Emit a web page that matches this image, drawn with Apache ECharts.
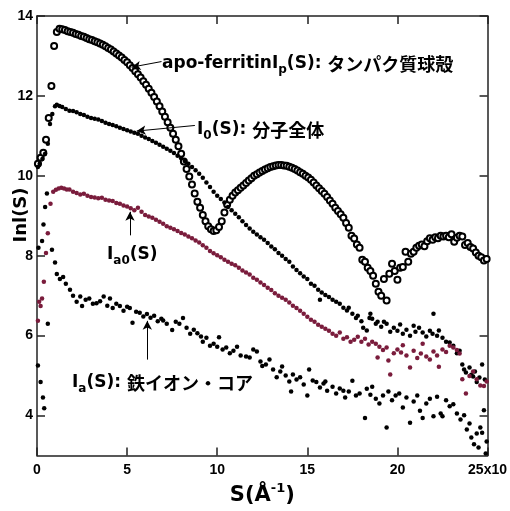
<!DOCTYPE html>
<html>
<head>
<meta charset="utf-8">
<script src="https://cdn.jsdelivr.net/npm/echarts@6/dist/echarts.min.js"></script>
<style>
  html, body { margin: 0; padding: 0; background: #fff; }
  #chart { width: 510px; height: 511px; }
</style>
</head>
<body>
<div id="chart"></div>
<script>
// S (x10^-3 Å^-1) vs ln I(S)
const xTicks = [0, 5, 10, 15, 20, 25]
const yTicks = [4, 6, 8, 10, 12, 14]

// apo-ferritin: open circles
const apoFerritin = [
  [0.05, 10.3], [0.2, 10.45], [0.35, 10.58], [0.5, 10.9], [0.65, 11.45], [0.8, 12.25], [0.95, 13.25], [1.1, 13.6], [1.25, 13.68], [1.4, 13.67],
  [1.55, 13.65], [1.7, 13.62], [1.85, 13.6], [2.0, 13.58], [2.15, 13.55], [2.3, 13.53], [2.45, 13.5], [2.6, 13.48], [2.75, 13.45], [2.9, 13.42],
  [3.05, 13.4], [3.2, 13.37], [3.35, 13.34], [3.5, 13.31], [3.65, 13.28], [3.8, 13.24], [3.95, 13.2], [4.1, 13.16], [4.25, 13.11], [4.4, 13.06],
  [4.55, 13.01], [4.7, 12.96], [4.85, 12.9], [5.0, 12.84], [5.15, 12.77], [5.3, 12.7], [5.45, 12.62], [5.6, 12.54], [5.75, 12.46], [5.9, 12.37],
  [6.05, 12.28], [6.2, 12.18], [6.35, 12.08], [6.5, 11.97], [6.65, 11.86], [6.8, 11.74], [6.95, 11.61], [7.1, 11.48], [7.25, 11.34], [7.4, 11.2],
  [7.55, 11.05], [7.7, 10.9], [7.85, 10.74], [8.0, 10.55], [8.15, 10.36], [8.3, 10.17], [8.45, 9.98], [8.6, 9.78], [8.75, 9.56], [8.9, 9.35],
  [9.05, 9.2], [9.2, 9.02], [9.35, 8.86], [9.5, 8.74], [9.65, 8.66], [9.8, 8.62], [9.95, 8.64], [10.1, 8.72], [10.25, 8.86], [10.4, 9.08],
  [10.55, 9.28], [10.7, 9.4], [10.85, 9.5], [11.0, 9.58], [11.15, 9.64], [11.3, 9.7], [11.45, 9.76], [11.6, 9.82], [11.75, 9.88], [11.9, 9.94],
  [12.05, 10.0], [12.2, 10.04], [12.35, 10.08], [12.5, 10.12], [12.65, 10.16], [12.8, 10.19], [12.95, 10.22], [13.1, 10.24], [13.25, 10.26], [13.4, 10.27],
  [13.55, 10.27], [13.7, 10.26], [13.85, 10.25], [14.0, 10.23], [14.15, 10.2], [14.3, 10.17], [14.45, 10.13], [14.6, 10.09], [14.75, 10.05], [14.9, 10.0],
  [15.05, 9.96], [15.2, 9.9], [15.35, 9.83], [15.5, 9.76], [15.65, 9.69], [15.8, 9.62], [15.95, 9.55], [16.1, 9.47], [16.25, 9.38], [16.4, 9.3],
  [16.55, 9.2], [16.7, 9.12], [16.85, 9.04], [17.0, 8.95], [17.15, 8.82], [17.3, 8.7], [17.45, 8.5], [17.6, 8.43], [17.75, 8.28], [17.9, 8.2],
  [18.05, 7.9], [18.2, 7.85], [18.35, 7.7], [18.5, 7.62], [18.65, 7.5], [18.8, 7.3], [18.95, 7.1], [19.1, 7.0], [19.25, 7.42], [19.4, 6.88],
  [19.55, 7.55], [19.7, 7.8], [19.85, 7.62], [20.0, 7.4], [20.15, 7.7], [20.3, 7.72], [20.45, 8.1], [20.6, 7.85], [20.75, 8.05], [20.9, 8.1],
  [21.05, 8.2], [21.2, 8.25], [21.35, 8.28], [21.5, 8.24], [21.65, 8.36], [21.8, 8.44], [21.95, 8.4], [22.1, 8.46], [22.25, 8.44], [22.4, 8.5],
  [22.55, 8.48], [22.7, 8.5], [22.85, 8.46], [23.0, 8.54], [23.15, 8.35], [23.3, 8.45], [23.45, 8.5], [23.6, 8.48], [23.75, 8.27], [23.9, 8.32],
  [24.05, 8.22], [24.2, 8.18], [24.35, 8.08], [24.5, 8.0], [24.65, 7.96], [24.8, 7.88], [24.95, 7.92]
]

// I0(S): whole molecule
const wholeMolecule = [
  [0.05, 10.22], [0.15, 10.3], [0.3, 10.42], [0.45, 10.55], [0.6, 10.8], [0.72, 11.3], [0.85, 11.55], [1.0, 11.74], [1.1, 11.78], [1.25, 11.75],
  [1.4, 11.72], [1.6, 11.67], [1.8, 11.63], [2.0, 11.62], [2.2, 11.59], [2.4, 11.55], [2.6, 11.52], [2.8, 11.48], [3.0, 11.45], [3.2, 11.43],
  [3.4, 11.41], [3.6, 11.37], [3.8, 11.33], [4.0, 11.3], [4.2, 11.27], [4.4, 11.24], [4.6, 11.2], [4.8, 11.17], [5.0, 11.14], [5.2, 11.11],
  [5.4, 11.08], [5.6, 11.05], [5.8, 11.0], [6.0, 10.96], [6.2, 10.92], [6.4, 10.87], [6.6, 10.83], [6.8, 10.78], [7.0, 10.73], [7.2, 10.68],
  [7.4, 10.63], [7.6, 10.57], [7.8, 10.5], [8.0, 10.44], [8.2, 10.37], [8.4, 10.3], [8.6, 10.22], [8.8, 10.14], [9.0, 10.05], [9.2, 9.95],
  [9.4, 9.83], [9.6, 9.72], [9.8, 9.6], [10.0, 9.5], [10.2, 9.42], [10.4, 9.33], [10.6, 9.22], [10.8, 9.14], [11.0, 9.05], [11.2, 8.96],
  [11.4, 8.86], [11.6, 8.77], [11.8, 8.68], [12.0, 8.6], [12.2, 8.53], [12.4, 8.46], [12.6, 8.4], [12.8, 8.32], [13.0, 8.23], [13.2, 8.16],
  [13.4, 8.07], [13.6, 8.0], [13.8, 7.92], [14.0, 7.85], [14.2, 7.73], [14.4, 7.64], [14.6, 7.56], [14.8, 7.48], [15.0, 7.42], [15.2, 7.3],
  [15.4, 7.25], [15.6, 7.15], [15.7, 6.9], [15.8, 7.08], [16.0, 7.02], [16.2, 6.97], [16.4, 6.9], [16.6, 6.85], [16.8, 6.8], [17.0, 6.7],
  [17.2, 6.63], [17.3, 6.7], [17.5, 6.55], [17.7, 6.44], [17.8, 6.5], [18.0, 6.36], [18.1, 6.2], [18.3, 6.13], [18.45, 6.44], [18.5, 6.55],
  [18.6, 6.42], [18.8, 6.3], [18.9, 6.35], [19.1, 6.22], [19.25, 6.35], [19.4, 6.3], [19.6, 6.1], [19.8, 6.2], [20.0, 6.12], [20.15, 6.28],
  [20.3, 6.05], [20.5, 6.15], [20.7, 6.0], [20.9, 6.25], [21.0, 6.1], [21.2, 6.2], [21.4, 6.08], [21.6, 5.98], [21.8, 6.12], [21.95, 6.05],
  [22.0, 6.55], [22.2, 6.0], [22.3, 6.13], [22.5, 5.95], [22.7, 5.85], [22.9, 5.83], [23.1, 5.75], [23.3, 5.56], [23.45, 5.62], [23.6, 5.28],
  [23.7, 5.15], [23.8, 5.08], [24.0, 5.2], [24.1, 5.02], [24.2, 4.98], [24.3, 5.1], [24.4, 4.84], [24.55, 4.95], [24.7, 5.28], [24.85, 4.9]
]

// Ia0(S)
const coreIa0 = [
  [0.05, 6.37], [0.12, 6.85], [0.2, 6.74], [0.28, 6.93], [0.38, 7.35], [0.5, 8.07], [0.6, 8.56], [0.75, 9.3], [0.9, 9.6], [1.05, 9.65],
  [1.2, 9.68], [1.35, 9.7], [1.5, 9.68], [1.65, 9.66], [1.8, 9.66], [2.0, 9.6], [2.2, 9.57], [2.4, 9.53], [2.6, 9.55], [2.8, 9.5],
  [3.0, 9.47], [3.2, 9.46], [3.4, 9.44], [3.6, 9.45], [3.8, 9.4], [4.0, 9.38], [4.2, 9.37], [4.4, 9.32], [4.6, 9.3], [4.8, 9.26],
  [5.0, 9.23], [5.2, 9.19], [5.4, 9.14], [5.6, 9.2], [5.8, 9.1], [6.0, 9.02], [6.2, 8.98], [6.4, 8.95], [6.6, 8.9], [6.8, 8.85],
  [7.0, 8.8], [7.2, 8.74], [7.4, 8.7], [7.6, 8.66], [7.8, 8.62], [8.0, 8.57], [8.2, 8.53], [8.4, 8.48], [8.6, 8.44], [8.8, 8.38],
  [9.0, 8.33], [9.2, 8.26], [9.4, 8.2], [9.6, 8.12], [9.8, 8.06], [10.0, 8.01], [10.2, 7.96], [10.4, 7.9], [10.6, 7.85], [10.8, 7.8],
  [11.0, 7.76], [11.2, 7.7], [11.4, 7.63], [11.6, 7.58], [11.8, 7.53], [12.0, 7.45], [12.2, 7.4], [12.4, 7.33], [12.6, 7.27], [12.8, 7.2],
  [13.0, 7.14], [13.2, 7.06], [13.4, 7.0], [13.6, 6.95], [13.8, 6.9], [14.0, 6.83], [14.2, 6.75], [14.4, 6.69], [14.6, 6.62], [14.8, 6.55],
  [15.0, 6.47], [15.2, 6.4], [15.4, 6.35], [15.6, 6.27], [15.8, 6.22], [16.0, 6.17], [16.2, 6.12], [16.4, 6.05], [16.6, 6.0], [16.8, 6.08],
  [17.0, 5.92], [17.2, 5.96], [17.4, 5.85], [17.6, 5.9], [17.8, 5.97], [18.0, 5.85], [18.2, 5.92], [18.4, 5.78], [18.6, 5.85], [18.8, 5.8],
  [18.9, 5.45], [19.0, 5.72], [19.2, 5.64], [19.4, 5.7], [19.5, 5.38], [19.6, 5.03], [19.8, 5.56], [20.0, 5.65], [20.2, 5.58], [20.3, 5.76],
  [20.5, 5.5], [20.7, 5.2], [20.9, 5.62], [21.1, 5.44], [21.3, 5.55], [21.4, 5.8], [21.6, 5.48], [21.8, 5.4], [22.0, 5.6], [22.2, 5.5],
  [22.3, 5.22], [22.5, 5.65], [22.7, 5.59], [22.9, 5.75], [23.1, 5.7], [23.3, 5.64], [23.45, 5.55], [23.6, 4.91], [23.8, 4.55], [24.0, 4.99],
  [24.2, 5.1], [24.4, 4.91], [24.6, 4.75], [24.8, 4.74], [24.95, 4.85]
]

// Ia(S): iron core
const ironCore = [
  [0.05, 5.25], [0.08, 8.2], [0.2, 4.84], [0.28, 8.37], [0.33, 4.45], [0.36, 8.78], [0.4, 4.18], [0.45, 9.22], [0.55, 9.56], [0.6, 6.3],
  [0.83, 8.15], [1.0, 7.83], [1.1, 7.54], [1.27, 7.42], [1.45, 7.47], [1.6, 7.3], [1.83, 7.15], [2.0, 7.0], [2.2, 6.85], [2.4, 6.98],
  [2.5, 6.74], [2.7, 6.9], [2.9, 6.93], [3.1, 6.8], [3.3, 6.81], [3.5, 6.86], [3.7, 6.98], [3.9, 6.75], [4.05, 6.93], [4.2, 6.69],
  [4.4, 6.8], [4.6, 6.74], [4.8, 6.62], [5.0, 6.72], [5.15, 6.69], [5.3, 6.32], [5.5, 6.6], [5.7, 6.57], [5.9, 6.48], [6.1, 6.54],
  [6.3, 6.45], [6.5, 6.5], [6.7, 6.36], [6.9, 6.42], [7.0, 6.38], [7.2, 6.3], [7.5, 6.14], [7.7, 6.35], [7.9, 6.3], [8.1, 6.44],
  [8.3, 6.2], [8.5, 6.05], [8.7, 6.15], [8.9, 6.06], [9.1, 5.98], [9.2, 5.85], [9.4, 5.95], [9.6, 5.75], [9.8, 5.8], [10.0, 5.72],
  [10.1, 5.96], [10.3, 5.65], [10.5, 5.7], [10.7, 5.56], [10.9, 5.62], [11.1, 5.72], [11.3, 5.5], [11.6, 5.48], [11.8, 5.45], [12.0, 5.65],
  [12.2, 5.6], [12.4, 5.35], [12.5, 5.24], [12.7, 5.28], [12.9, 5.4], [13.1, 5.15], [13.3, 4.96], [13.5, 5.1], [13.6, 5.23], [13.8, 5.0],
  [14.0, 4.85], [14.1, 4.6], [14.2, 5.03], [14.4, 4.9], [14.6, 4.96], [14.8, 4.78], [15.0, 4.5], [15.1, 5.15], [15.3, 4.88], [15.5, 4.84],
  [15.7, 4.7], [15.9, 4.8], [16.0, 4.85], [16.1, 4.62], [16.4, 4.72], [16.6, 4.55], [16.8, 4.68], [17.0, 4.62], [17.1, 4.45], [17.3, 4.6],
  [17.5, 4.87], [17.7, 4.5], [17.9, 4.55], [18.2, 3.94], [18.3, 4.67], [18.5, 4.52], [18.6, 4.72], [18.8, 4.42], [19.0, 4.3], [19.2, 4.5],
  [19.4, 3.7], [19.5, 4.6], [19.7, 4.38], [19.9, 4.5], [20.1, 4.55], [20.3, 4.2], [20.5, 4.45], [20.7, 3.82], [20.9, 4.35], [21.1, 4.5],
  [21.25, 4.12], [21.4, 3.94], [21.6, 4.3], [21.8, 4.42], [22.0, 3.98], [22.2, 4.47], [22.4, 4.05], [22.5, 3.98], [22.7, 4.38], [22.9, 4.23],
  [23.1, 4.28], [23.3, 4.05], [23.5, 3.9], [23.7, 4.01], [23.85, 3.65], [24.0, 3.8], [24.1, 3.45], [24.25, 3.28], [24.4, 3.55], [24.5, 3.2],
  [24.6, 3.7], [24.7, 3.57], [24.8, 4.13], [24.9, 3.05], [24.95, 3.35]
]

const black = '#000'
const maroon = '#7a1c3c'
const axisColor = '#222'
const labelFont = 'Liberation Sans'
const textFont = 'DejaVu Sans'
const jpFont = 'Noto Sans CJK JP'

const rich = {
  t: { fontFamily: textFont, fontWeight: 'bold', fontSize: 17, lineHeight: 24, color: black },
  s: { fontFamily: textFont, fontWeight: 'bold', fontSize: 12, lineHeight: 14, verticalAlign: 'bottom', padding: [8, 0, 0, 0], color: black },
  j: { fontFamily: jpFont, fontWeight: 'bold', fontSize: 18, lineHeight: 24, color: black }
}

function note(x, y, text) {
  return {
    type: 'text',
    x: x,
    y: y,
    style: { text: text, rich: rich, verticalAlign: 'middle', align: 'left' }
  }
}

const chart = echarts.init(document.getElementById('chart'))
chart.setOption({
  animation: false,
  backgroundColor: '#fff',
  grid: { left: 37, right: 22, top: 16, bottom: 43 },
  xAxis: [{
    type: 'value',
    min: 0,
    max: 25,
    interval: 5,
    position: 'bottom',
    axisLine: { onZero: false, lineStyle: { color: axisColor, width: 1.5 } },
    axisTick: { inside: true, length: 8, lineStyle: { color: axisColor, width: 1.5 } },
    axisLabel: {
      color: black, fontFamily: labelFont, fontWeight: 'bold', fontSize: 14, margin: 8,
      customValues: xTicks,
      formatter: v => (v === 25 ? '25x10' : String(v))
    },
    splitLine: { show: false },
    name: '{b|S(Å}{u|-1}{b|)}',
    nameLocation: 'middle',
    nameGap: 27,
    nameTextStyle: {
      rich: {
        b: { fontFamily: textFont, fontWeight: 'bold', fontSize: 21, lineHeight: 26, color: black },
        u: { fontFamily: textFont, fontWeight: 'bold', fontSize: 13, lineHeight: 14, verticalAlign: 'top', padding: [0, 0, 10, 0], color: black }
      }
    }
  }, {
    type: 'value',
    min: 0,
    max: 25,
    interval: 5,
    position: 'top',
    axisLine: { onZero: false, lineStyle: { color: axisColor, width: 1.5 } },
    axisTick: { inside: true, length: 8, lineStyle: { color: axisColor, width: 1.5 } },
    axisLabel: { show: false },
    splitLine: { show: false }
  }],
  yAxis: [{
    type: 'value',
    min: 3,
    max: 14,
    position: 'left',
    axisLine: { onZero: false, lineStyle: { color: axisColor, width: 1.5 } },
    axisTick: { inside: true, length: 8, customValues: yTicks, lineStyle: { color: axisColor, width: 1.5 } },
    axisLabel: { color: black, fontFamily: labelFont, fontWeight: 'bold', fontSize: 14, margin: 4, customValues: yTicks },
    splitLine: { show: false }
  }, {
    type: 'value',
    min: 3,
    max: 14,
    position: 'right',
    axisLine: { onZero: false, lineStyle: { color: axisColor, width: 1.5 } },
    axisTick: { inside: true, length: 8, customValues: yTicks, lineStyle: { color: axisColor, width: 1.5 } },
    axisLabel: { show: false },
    splitLine: { show: false }
  }],
  series: [{
    name: 'apo-ferritin',
    type: 'scatter',
    data: apoFerritin,
    symbol: 'emptyCircle',
    symbolSize: 6,
    itemStyle: { color: black, borderColor: black, borderWidth: 1.1, opacity: 1 },
    markLine: {
      silent: true,
      symbol: ['none', 'arrow'],
      symbolSize: [7, 9],
      label: { show: false },
      lineStyle: { color: black, width: 1, type: 'solid', opacity: 1 },
      data: [
        [{ coord: [6.91, 12.86] }, { coord: [5.25, 12.72] }],
        [{ coord: [8.76, 11.26] }, { coord: [5.53, 11.12] }],
        [{ coord: [5.16, 8.51] }, { coord: [5.16, 9.1] }],
        [{ coord: [6.12, 5.4] }, { coord: [6.12, 6.37] }]
      ]
    }
  }, {
    name: 'I0',
    type: 'scatter',
    data: wholeMolecule,
    symbolSize: 4.5,
    itemStyle: { color: black, opacity: 1 }
  }, {
    name: 'Ia0',
    type: 'scatter',
    data: coreIa0,
    symbolSize: 4.5,
    itemStyle: { color: maroon, opacity: 1 }
  }, {
    name: 'Ia',
    type: 'scatter',
    data: ironCore,
    symbolSize: 4.5,
    itemStyle: { color: black, opacity: 1 }
  }],
  graphic: [
    {
      type: 'text',
      x: 21,
      y: 215,
      rotation: Math.PI / 2,
      style: { text: 'Inl(S)', font: 'bold 18px "DejaVu Sans"', fill: black, align: 'center', verticalAlign: 'middle' }
    },
    note(162, 64, '{t|apo-ferritin}{t|I}{s|p}{t|(S): }{j|タンパク質球殻}'),
    note(197, 130, '{t|I}{s|0}{t|(S): }{j|分子全体}'),
    note(107, 255, '{t|I}{s|a0}{t|(S)}'),
    note(72, 383, '{t|I}{s|a}{t|(S): }{j|鉄イオン・コア}')
  ]
})
</script>
</body>
</html>
